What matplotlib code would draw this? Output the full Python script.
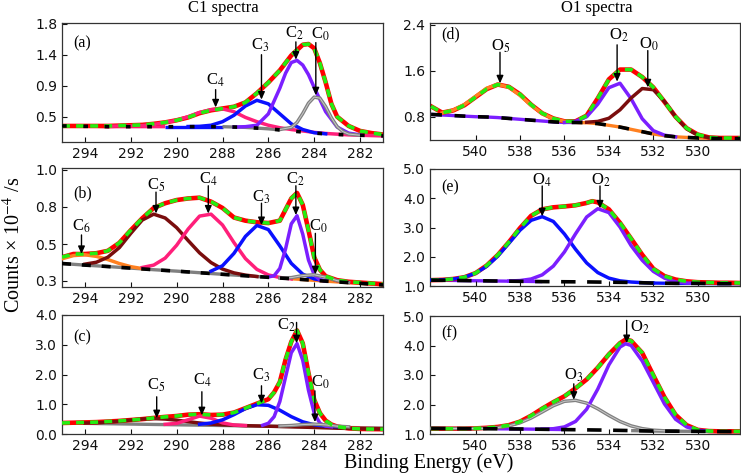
import matplotlib
matplotlib.use('Agg')
import matplotlib.pyplot as plt
import numpy as np

# ---------------- Panel (a) C1 ----------------
A_ENV_E = [295, 294.5, 294, 293.5, 293, 292.5, 292, 291.5, 291, 290.5, 290, 289.5, 289, 288.5, 288, 287.5,
           287, 286.5, 286, 285.5, 285, 284.5, 284.25, 284, 283.75, 283.5, 283.25, 283, 282.5, 282, 281.5, 281]
A_ENV = [0.37, 0.37, 0.37, 0.37, 0.37, 0.375, 0.38, 0.385, 0.40, 0.42, 0.45, 0.49, 0.55, 0.59, 0.615, 0.64,
         0.70, 0.83, 0.98, 1.15, 1.36, 1.51, 1.52, 1.46, 1.25, 0.98, 0.68, 0.50, 0.37, 0.30, 0.27, 0.25]
A_BG_E = [295, 294.5, 294, 293.5, 293, 292.5, 292, 291.5, 291, 290.5, 290, 289.5, 289, 288.5, 288, 287.5,
          287, 286.5, 286, 285.5, 285, 284.5, 284, 283.5, 283, 282.5, 282, 281.5, 281]
A_BG = [0.37, 0.37, 0.365, 0.365, 0.36, 0.36, 0.36, 0.36, 0.36, 0.36, 0.36, 0.36, 0.36, 0.36, 0.36, 0.355,
        0.35, 0.34, 0.33, 0.315, 0.30, 0.285, 0.27, 0.26, 0.25, 0.245, 0.24, 0.235, 0.23]
A_C4_E = [293, 292.5, 292, 291.5, 291, 290.5, 290, 289.5, 289, 288.5, 288, 287.5, 287, 286.5, 286, 285.5,
          285, 284.5, 284, 283.5, 283, 282.5, 282, 281.5, 281]
A_C4 = [0.365, 0.37, 0.37, 0.375, 0.39, 0.42, 0.45, 0.50, 0.56, 0.60, 0.61, 0.57, 0.49, 0.43, 0.38, 0.345,
        0.32, 0.30, 0.28, 0.265, 0.255, 0.245, 0.24, 0.235, 0.23]
A_C3_E = [289.5, 289, 288.5, 288, 287.5, 287, 286.5, 286, 285.5, 285, 284.5, 284, 283.5]
A_C3 = [0.362, 0.365, 0.38, 0.43, 0.52, 0.65, 0.73, 0.68, 0.54, 0.40, 0.32, 0.275, 0.26]
A_C2_E = [287.5, 287, 286.5, 286, 285.5, 285.25, 285, 284.75, 284.5, 284.25, 284, 283.5, 283, 282.5, 282]
A_C2 = [0.355, 0.36, 0.38, 0.54, 0.90, 1.11, 1.26, 1.29, 1.225, 1.09, 0.91, 0.57, 0.355, 0.27, 0.245]
A_C0_E = [285.5, 285, 284.75, 284.5, 284.25, 284, 283.75, 283.5, 283.25, 283, 282.75, 282.5, 282]
A_C0 = [0.32, 0.35, 0.42, 0.545, 0.69, 0.775, 0.76, 0.64, 0.485, 0.36, 0.29, 0.256, 0.24]

# ---------------- Panel (b) C1 ----------------
B_ENV_E = [295, 294.5, 294, 293.5, 293, 292.5, 292, 291.5, 291, 290.5, 290, 289.5, 289, 288.5, 288, 287.5,
           287, 286.5, 286, 285.5, 285.25, 285, 284.75, 284.5, 284.25, 284, 283.75, 283.5, 283, 282.5, 282,
           281.5, 281]
B_ENV = [0.45, 0.47, 0.47, 0.475, 0.49, 0.54, 0.62, 0.695, 0.76, 0.79, 0.81, 0.82, 0.825, 0.80, 0.76, 0.70,
         0.68, 0.67, 0.665, 0.68, 0.75, 0.82, 0.855, 0.78, 0.62, 0.45, 0.37, 0.33, 0.305, 0.295, 0.29,
         0.285, 0.28]
B_BG_E = [295, 294, 293, 292, 291, 290, 289, 288, 287, 286, 285, 284, 283, 282, 281]
B_BG = [0.41, 0.40, 0.391, 0.381, 0.371, 0.362, 0.352, 0.342, 0.333, 0.323, 0.314, 0.304, 0.294, 0.285, 0.275]
B_C6_E = [295, 294.5, 294, 293.5, 293, 292.5, 292, 291.5]
B_C6 = [0.44, 0.46, 0.465, 0.455, 0.435, 0.41, 0.39, 0.378]
B_C5_E = [294, 293.5, 293, 292.5, 292, 291.5, 291, 290.5, 290, 289.5, 289, 288.5, 288, 287.5, 287, 286.5]
B_C5 = [0.406, 0.418, 0.45, 0.51, 0.60, 0.684, 0.721, 0.697, 0.636, 0.555, 0.477, 0.416, 0.375, 0.351,
        0.337, 0.328]
B_C4_E = [291.5, 291, 290.5, 290, 289.5, 289, 288.5, 288, 287.5, 287, 286.5, 286, 285.5, 285]
B_C4 = [0.385, 0.40, 0.444, 0.525, 0.627, 0.709, 0.721, 0.653, 0.542, 0.441, 0.373, 0.338, 0.322, 0.313]
B_C3_E = [288.5, 288, 287.5, 287, 286.5, 286, 285.5, 285, 284.5, 284, 283.5]
B_C3 = [0.362, 0.396, 0.474, 0.581, 0.65, 0.624, 0.521, 0.411, 0.343, 0.313, 0.301]
B_C2_E = [286, 285.75, 285.5, 285.25, 285, 284.75, 284.5, 284.25, 284, 283.75, 283.5]
B_C2 = [0.325, 0.333, 0.379, 0.502, 0.66, 0.711, 0.595, 0.432, 0.339, 0.306, 0.299]
B_C0_E = [285.5, 285, 284.5, 284, 283.5, 283, 282.5]
B_C0 = [0.319, 0.321, 0.334, 0.339, 0.324, 0.302, 0.29]

# ---------------- Panel (c) C1 ----------------
C_ENV_E = [295, 294.5, 294, 293.5, 293, 292.5, 292, 291.5, 291, 290.5, 290, 289.5, 289, 288.5, 288, 287.5,
           287, 286.5, 286, 285.75, 285.5, 285.25, 285, 284.75, 284.5, 284.25, 284, 283.75, 283.5, 283.25,
           283, 282.5, 282, 281.5, 281]
C_ENV = [0.37, 0.38, 0.39, 0.40, 0.42, 0.44, 0.47, 0.50, 0.54, 0.575, 0.605, 0.65, 0.665, 0.64, 0.65, 0.72,
         0.87, 1.02, 1.17, 1.40, 1.75, 2.50, 3.10, 3.48, 3.05, 2.05, 1.15, 0.70, 0.45, 0.32,
         0.25, 0.19, 0.17, 0.165, 0.16]
C_BG_E = [295, 294, 293, 292, 291, 290, 289, 288, 287, 286, 285, 284, 283, 282, 281]
C_BG = [0.37, 0.358, 0.346, 0.334, 0.321, 0.309, 0.297, 0.285, 0.273, 0.261, 0.249, 0.237, 0.224, 0.212, 0.20]
C_C5_E = [294, 293.5, 293, 292.5, 292, 291.5, 291, 290.5, 290, 289.5, 289, 288.5, 288, 287.5, 287, 286,
          285, 284, 283, 282, 281]
C_C5 = [0.369, 0.378, 0.398, 0.429, 0.469, 0.503, 0.517, 0.502, 0.464, 0.415, 0.369, 0.332, 0.309, 0.295,
        0.28, 0.262, 0.242, 0.22, 0.195, 0.18, 0.17]
C_C4_E = [290.5, 290, 289.5, 289, 288.5, 288, 287.5, 287]
C_C4 = [0.326, 0.357, 0.478, 0.602, 0.531, 0.374, 0.302, 0.284]
C_C3_E = [289, 288.5, 288, 287.5, 287, 286.5, 286, 285.5, 285, 284.5, 284, 283.5, 283]
C_C3 = [0.328, 0.37, 0.475, 0.65, 0.854, 0.984, 0.964, 0.80, 0.583, 0.41, 0.31, 0.264, 0.245]
C_C2_E = [286.25, 286, 285.75, 285.5, 285.25, 285, 284.75, 284.5, 284.25, 284, 283.75, 283.5, 283.25]
C_C2 = [0.294, 0.36, 0.58, 1.09, 1.91, 2.73, 3.04, 2.48, 1.47, 0.70, 0.36, 0.265, 0.245]
C_C0_E = [285.5, 285, 284.5, 284, 283.5, 283, 282.5]
C_C0 = [0.269, 0.286, 0.316, 0.332, 0.306, 0.264, 0.241]

# ---------------- Panel (d) O1 ----------------
D_E = [542, 541.5, 541, 540.5, 540, 539.5, 539, 538.5, 538, 537.5, 537, 536.5, 536, 535.5, 535, 534.5,
       534, 533.5, 533, 532.5, 532, 531.5, 531, 530.5, 530, 529.5, 529, 528.5, 528]
D_BG = [0.84, 0.83, 0.82, 0.81, 0.80, 0.795, 0.785, 0.77, 0.755, 0.74, 0.725, 0.71, 0.70, 0.70, 0.695, 0.68,
        0.65, 0.62, 0.58, 0.54, 0.50, 0.47, 0.45, 0.44, 0.43, 0.425, 0.42, 0.42, 0.42]
D_ENV = [0.98, 0.87, 0.91, 1.00, 1.14, 1.28, 1.36, 1.32, 1.19, 1.01, 0.86, 0.77, 0.72, 0.72, 0.82, 1.12,
         1.45, 1.62, 1.62, 1.49, 1.31, 1.06, 0.80, 0.60, 0.49, 0.44, 0.43, 0.43, 0.43]
D_O5_E = [541.5, 541, 540.5, 540, 539.5, 539, 538.5, 538, 537.5, 537, 536.5, 536, 535.5]
D_O5 = [0.866, 0.915, 1.013, 1.153, 1.295, 1.363, 1.313, 1.171, 1.0, 0.857, 0.765, 0.719, 0.706]
D_O2_E = [536, 535.5, 535, 534.5, 534, 533.5, 533, 532.5, 532, 531.5, 531]
D_O2 = [0.70, 0.72, 0.80, 1.018, 1.305, 1.382, 1.112, 0.764, 0.557, 0.479, 0.45]
D_O0_E = [535, 534.5, 534, 533.5, 533, 532.5, 532, 531.5, 531, 530.5, 530, 529.5, 529]
D_O0 = [0.704, 0.718, 0.773, 0.92, 1.125, 1.29, 1.27, 1.066, 0.798, 0.59, 0.479, 0.437, 0.422]

# ---------------- Panel (e) O1 ----------------
E_BG_E = [542, 541, 540, 539, 538, 537, 536, 535, 534, 533, 532, 531, 530, 529, 528]
E_BG = [1.20, 1.19, 1.18, 1.17, 1.16, 1.15, 1.145, 1.14, 1.13, 1.12, 1.10, 1.09, 1.09, 1.08, 1.08]
E_ENV_E = [542, 541.5, 541, 540.5, 540, 539.5, 539, 538.5, 538, 537.5, 537, 536.5, 536, 535.5, 535, 534.75,
           534.5, 534, 533.5, 533, 532.5, 532, 531.5, 531, 530.5, 530, 529.5, 529, 528.5, 528]
E_ENV = [1.20, 1.21, 1.24, 1.30, 1.44, 1.70, 2.06, 2.50, 2.98, 3.40, 3.62, 3.69, 3.72, 3.76, 3.84, 3.90,
         3.86, 3.62, 3.16, 2.62, 2.07, 1.59, 1.34, 1.22, 1.16, 1.13, 1.12, 1.11, 1.11, 1.10]
E_O4_E = [542, 541.5, 541, 540.5, 540, 539.5, 539, 538.5, 538, 537.5, 537, 536.5, 536, 535.5, 535, 534.5,
          534, 533.5, 533, 532.5, 532]
E_O4 = [1.206, 1.21, 1.238, 1.30, 1.437, 1.672, 2.02, 2.46, 2.907, 3.245, 3.37, 3.206, 2.777, 2.255, 1.788,
        1.459, 1.269, 1.176, 1.136, 1.114, 1.10]
E_O2_E = [538.5, 538, 537.5, 537, 536.5, 536, 535.5, 535, 534.5, 534, 533.5, 533, 532.5, 532, 531.5, 531,
          530.5, 530]
E_O2 = [1.171, 1.186, 1.239, 1.381, 1.68, 2.165, 2.785, 3.36, 3.642, 3.51, 3.015, 2.38, 1.88, 1.50, 1.27,
        1.14, 1.10, 1.09]

# ---------------- Panel (f) O1 ----------------
F_BG_E = [542, 541, 540, 539, 538, 537, 536, 535, 534, 533, 532, 531, 530, 529, 528]
F_BG = [1.19, 1.185, 1.18, 1.175, 1.17, 1.16, 1.15, 1.14, 1.13, 1.115, 1.10, 1.095, 1.09, 1.085, 1.08]
F_ENV_E = [542, 541.5, 541, 540.5, 540, 539.5, 539, 538.5, 538, 537.5, 537, 536.5, 536, 535.5, 535, 534.5,
           534, 533.5, 533.25, 533, 532.5, 532, 531.5, 531, 530.5, 530, 529.5, 529, 528.5, 528]
F_ENV = [1.18, 1.18, 1.18, 1.18, 1.19, 1.21, 1.24, 1.30, 1.42, 1.62, 1.86, 2.08, 2.28, 2.55, 2.85, 3.25,
         3.70, 4.08, 4.20, 4.16, 3.75, 2.99, 2.25, 1.65, 1.30, 1.14, 1.10, 1.09, 1.09, 1.09]
F_O3_E = [542, 541, 540, 539.5, 539, 538.5, 538, 537.5, 537, 536.5, 536, 535.5, 535, 534.5, 534, 533.5,
          533, 532.5, 532, 531.5, 531]
F_O3 = [1.19, 1.185, 1.185, 1.194, 1.219, 1.275, 1.38, 1.541, 1.748, 1.958, 2.108, 2.141, 2.047, 1.855,
        1.63, 1.425, 1.275, 1.182, 1.13, 1.108, 1.099]
F_O2_E = [537, 536.5, 536, 535.5, 535, 534.5, 534, 533.5, 533.25, 533, 532.5, 532, 531.5, 531, 530.5, 530,
          529.5]
F_O2 = [1.165, 1.179, 1.241, 1.426, 1.84, 2.523, 3.344, 3.947, 4.06, 4.002, 3.475, 2.75, 2.02, 1.50, 1.24,
        1.13, 1.094]

# tick labels
C_XTICKS = [294, 292, 290, 288, 286, 284, 282]
O_XTICKS = [540, 538, 536, 534, 532, 530]
A_YTICKS = [0.5, 0.935, 1.37, 1.805]
A_YLABELS = ['0.5', '0.9', '1.4', '1.8']
B_YTICKS = [0.3, 0.533, 0.767, 1.0]
B_YLABELS = ['0.3', '0.5', '0.8', '1.0']
C_YTICKS = [0, 1, 2, 3, 4]
C_YLABELS = ['0.0', '1.0', '2.0', '3.0', '4.0']
D_YTICKS = [0.8, 1.6, 2.4]
D_YLABELS = ['0.8', '1.6', '2.4']
EF_YTICKS = [1, 2, 3, 4, 5]
EF_YLABELS = ['1.0', '2.0', '3.0', '4.0', '5.0']

# ---------------- style ----------------
plt.rcParams['font.family'] = ['Liberation Serif', 'DejaVu Serif']
plt.rcParams['mathtext.fontset'] = 'stix'

RED = '#ff0000'
GREEN = '#22ee11'
PINK = '#ff1f7a'
BLUE = '#0a10ff'
PURPLE = '#7b1fff'
GREY = '#808080'
BROWN = '#7a0d0d'
ORANGE = '#ff8020'

fig = plt.figure(figsize=(7.41, 4.76), dpi=100)
W, H = 741.0, 476.0


def make_ax(x0, x1, y0, y1):
    return fig.add_axes([x0 / W, 1 - y1 / H, (x1 - x0) / W, (y1 - y0) / H])


def seg(ax, e, y, hi, lo, color, lw=2.4, z=1):
    e = np.asarray(e, float)
    y = np.asarray(y, float)
    m = (e <= hi) & (e >= lo)
    ax.plot(e[m], y[m], color=color, lw=lw, solid_capstyle='butt', zorder=z)


def panel(ax, env_e, env, bg_e, bg, comps, base, bgdash, xlim, ylim, xt, yt, ytl, tag, tagpos, annots,
          show_bg=True):
    for hi, lo, col in base:
        seg(ax, bg_e, bg, hi, lo, col, z=1)
    ax.plot(env_e, env, color=RED, lw=3.3, zorder=2, solid_joinstyle='round')
    for e, y, col in comps:
        ax.plot(e, y, color=col, lw=2.5, zorder=3, solid_joinstyle='round')
        if col == GREY:
            ax.plot(e, y, color='#c8c8c8', lw=0.7, zorder=3.1)
    ax.plot(env_e, env, color=GREEN, lw=2.6, ls=(0, (2.2, 1.7)), zorder=4)
    if show_bg:
        ax.plot(bg_e, bg, color='black', lw=2.6, ls=(0, bgdash), zorder=5)
    ax.set_xlim(*xlim)
    ax.set_ylim(*ylim)
    ax.set_xticks(xt)
    ax.set_xticklabels([str(v) for v in xt])
    ax.set_yticks(yt)
    ax.set_yticklabels(ytl)
    ax.tick_params(direction='in', length=3.5, width=0.8, labelsize=10, pad=3.5, colors='#111111')
    for lbl in ax.get_xticklabels() + ax.get_yticklabels():
        lbl.set_fontfamily('DejaVu Sans')
    for s in ax.spines.values():
        s.set_linewidth(0.9)
        s.set_color('#333333')
    ax.text(tagpos[0], tagpos[1], tag, transform=ax.transAxes, fontsize=11.5, ha='left', va='center')
    for txt, tx, ty, ax_x, y0, y1 in annots:
        ax.text(tx, ty, txt, fontsize=12, ha='center', va='center', zorder=7)
        ax.annotate('', xy=(ax_x, y1), xytext=(ax_x, y0),
                    arrowprops=dict(arrowstyle='-|>,head_length=0.45,head_width=0.2', lw=1.0,
                                    color='black', shrinkA=0, shrinkB=0), zorder=8)


CX = (295, 281)
OX = (542.05, 528.1)

axa = make_ax(62, 383, 23, 142)
panel(axa, A_ENV_E, A_ENV, A_BG_E, A_BG,
      [(A_C4_E, A_C4, PINK), (A_C3_E, A_C3, BLUE), (A_C2_E, A_C2, PURPLE), (A_C0_E, A_C0, GREY)],
      [(295, 290.5, PINK), (290.5, 288, BLUE), (288, 285.5, GREY)], (1.3, 4.6),
      CX, (0.145, 1.815), C_XTICKS, A_YTICKS, A_YLABELS, '(a)', (0.035, 0.83),
      [('C$_4$', 288.3, 1.01, 288.3, 0.88, 0.63),
       ('C$_3$', 286.35, 1.50, 286.3, 1.37, 0.74),
       ('C$_2$', 284.88, 1.67, 284.8, 1.55, 1.30),
       ('C$_0$', 283.75, 1.66, 283.93, 1.54, 0.80)])

axb = make_ax(62, 383, 168, 287)
panel(axb, B_ENV_E, B_ENV, B_BG_E, B_BG,
      [(B_C6_E, B_C6, ORANGE), (B_C5_E, B_C5, BROWN), (B_C4_E, B_C4, PINK), (B_C3_E, B_C3, BLUE),
       (B_C2_E, B_C2, PURPLE), (B_C0_E, B_C0, GREY)],
      [(295, 286, GREY), (285, 281, ORANGE)], (2.5, 3.0),
      CX, (0.262, 1.012), C_XTICKS, B_YTICKS, B_YLABELS, '(b)', (0.035, 0.79),
      [('C$_6$', 294.15, 0.645, 294.15, 0.59, 0.47),
       ('C$_5$', 290.87, 0.905, 290.9, 0.86, 0.725),
       ('C$_4$', 288.62, 0.94, 288.62, 0.90, 0.725),
       ('C$_3$', 286.3, 0.83, 286.3, 0.79, 0.652),
       ('C$_2$', 284.84, 0.94, 284.8, 0.90, 0.715),
       ('C$_0$', 283.8, 0.645, 283.95, 0.60, 0.342)])

axc = make_ax(62, 383, 315, 434)
panel(axc, C_ENV_E, C_ENV, C_BG_E, C_BG,
      [(C_C5_E, C_C5, BROWN), (C_C4_E, C_C4, PINK), (C_C3_E, C_C3, BLUE), (C_C2_E, C_C2, PURPLE),
       (C_C0_E, C_C0, GREY)],
      [(295, 281, GREY)], (2, 2),
      CX, (0, 4), C_XTICKS, C_YTICKS, C_YLABELS, '(c)', (0.035, 0.815),
      [('C$_5$', 290.87, 1.64, 290.87, 1.25, 0.53),
       ('C$_4$', 288.87, 1.80, 288.9, 1.42, 0.63),
       ('C$_3$', 286.3, 1.97, 286.3, 1.62, 1.03),
       ('C$_2$', 285.2, 3.65, 284.77, 3.75, 3.05),
       ('C$_0$', 283.72, 1.75, 283.97, 1.45, 0.40)], show_bg=False)

axd = make_ax(430, 740, 23, 140)
panel(axd, D_E, D_ENV, D_E, D_BG,
      [(D_O5_E, D_O5, ORANGE), (D_O2_E, D_O2, PURPLE), (D_O0_E, D_O0, BROWN)],
      [(542, 535.5, PURPLE), (535.5, 528, ORANGE)], (3.0, 3.5),
      OX, (0.395, 2.43), O_XTICKS, D_YTICKS, D_YLABELS, '(d)', (0.035, 0.90),
      [('O$_5$', 538.88, 2.03, 538.9, 1.92, 1.38),
       ('O$_2$', 533.56, 2.21, 533.63, 2.05, 1.41),
       ('O$_0$', 532.2, 2.06, 532.25, 1.95, 1.31)])

axe = make_ax(430, 740, 169, 286)
panel(axe, E_ENV_E, E_ENV, E_BG_E, E_BG,
      [(E_O4_E, E_O4, BLUE), (E_O2_E, E_O2, PURPLE)],
      [(542, 537, PURPLE), (532, 528, BLUE)], (4.0, 3.2),
      OX, (1.0, 5.0), O_XTICKS, EF_YTICKS, EF_YLABELS, '(e)', (0.035, 0.84),
      [('O$_4$', 537.0, 4.62, 537.0, 4.42, 3.38),
       ('O$_2$', 534.38, 4.62, 534.4, 4.42, 3.65)])

axf = make_ax(430, 740, 316, 434)
panel(axf, F_ENV_E, F_ENV, F_BG_E, F_BG,
      [(F_O3_E, F_O3, GREY), (F_O2_E, F_O2, PURPLE)],
      [(539, 536, PURPLE), (533, 528, GREY)], (4.0, 3.2),
      OX, (1.0, 5.0), O_XTICKS, EF_YTICKS, EF_YLABELS, '(f)', (0.035, 0.85),
      [('O$_3$', 535.58, 2.99, 535.58, 2.70, 2.16),
       ('O$_2$', 532.6, 4.63, 533.2, 4.85, 4.08)])

fig.text(223 / W, 1 - 8 / H, 'C1 spectra', ha='center', va='center', fontsize=12)
fig.text(597 / W, 1 - 8 / H, 'O1 spectra', ha='center', va='center', fontsize=12)
fig.text(14 / W, 1 - 245 / H, 'Counts \u00d7 10$^{-4}$ /s', rotation=90, ha='center', va='center',
         fontsize=14.5)
fig.text(429 / W, 1 - 463 / H, 'Binding Energy (eV)', ha='center', va='center', fontsize=14.5)

fig.savefig('out.png', dpi=100)
